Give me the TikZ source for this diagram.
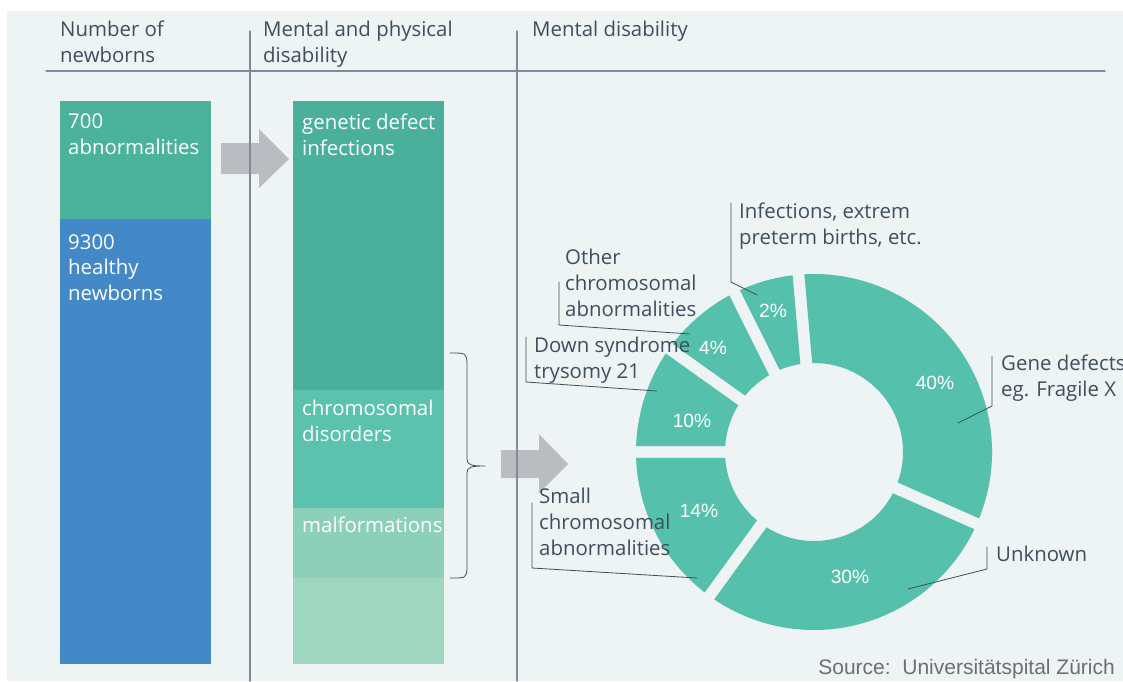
\documentclass[tikz,border=0pt]{standalone}
\usepackage{fontspec}
\setmainfont{Open Sans}
\newfontfamily\pctfont{Liberation Sans}
\definecolor{paper}{HTML}{EEF3F4}
\definecolor{ink}{HTML}{3E4F5E}
\definecolor{rulec}{HTML}{7E8B9B}
\definecolor{abnorm}{HTML}{4BB29C}
\definecolor{healthy}{HTML}{4389C8}
\definecolor{genetic}{HTML}{4AB09B}
\definecolor{chromo}{HTML}{5BC2AE}
\definecolor{malform}{HTML}{8CD0B9}
\definecolor{rest}{HTML}{9FD6BF}
\definecolor{ring}{HTML}{55C1AC}
\definecolor{arrowc}{HTML}{B9BCC0}
\definecolor{srcgray}{HTML}{6D6E71}
\begin{document}
\begin{tikzpicture}[
		x = 1pt,
		y = -1pt,
		line join = round,
		line cap = round,
		head/.style = {anchor=north west, inner sep=0pt, align=left, text=ink,
			font=\fontsize{20.4}{25.8}\selectfont},
		bartext/.style = {head, text=white},
		pct/.style = {inner sep=0pt, text=white, font=\pctfont\fontsize{19.2}{21}\selectfont},
		leader/.style = {draw=ink, line width=0.8pt},
		rule/.style = {draw=rulec, line width=1.3pt},
		]
\useasboundingbox (0,0) rectangle (1123,681);
\fill[white]	(0,0) rectangle (1123,681);
\fill[paper]	(7,11) rectangle (1123,681);

\node[head] (hnum)  at (60,21)  {Number of\\newborns};
\node[head] (hmix)  at (263,21) {Mental and physical\\disability};
\node[head] (hment) at (532,21) {Mental disability};

\fill[abnorm]	(60,101) rectangle (211,219);
\fill[healthy]	(60,219) rectangle (211,664);
\node[bartext] (nabn) at (68,114) {700\\abnormalities};
\node[bartext] (nhea) at (68,234) {9300\\healthy\\newborns};

\fill[genetic]	(293,101) rectangle (444,390);
\fill[chromo]	(293,390) rectangle (444,508);
\fill[malform]	(293,508) rectangle (444,578);
\fill[rest]	(293,578) rectangle (444,664);
\node[bartext] (ngen) at (302,114) {genetic defect\\infections};
\node[bartext] (nchr) at (302,400) {chromosomal\\disorders};
\node[bartext] (nmal) at (302,517) {malformations};

\fill[arrowc]	(221,143) -- (259,143) -- (259,129) -- (289,159) -- (259,188) -- (259,174) -- (221,174) -- cycle;
\fill[arrowc]	(501,450) -- (539,450) -- (539,434) -- (568,464) -- (539,493) -- (539,478) -- (501,478) -- cycle;

\draw[rule]	(46,71) -- (1105,71);
\draw[rule]	(250,31) -- (250,681);
\draw[rule]	(517,31) -- (517,681);

\draw[leader]	(450,353) .. controls (466,353) .. (467,362) -- (467,459)
		.. controls (467,465) and (471,466) .. (485,466)
		.. controls (471,466) and (467,467) .. (467,473) -- (467,569)
		.. controls (466,578) .. (450,578);

\begin{scope}[shift={(814,452)}, yscale=-1]
\foreach \s/\e in {234/336.2, -23.8/95, 95/116.5, 116.5/144.5, 144.5/180, 180/234}
	\fill[ring]	({\s+1.9}:178) arc[start angle=\s+1.9, end angle=\e-1.9, radius=178]
			-- ({\e-3.8}:89) arc[start angle=\e-3.8, end angle=\s+3.8, radius=89] -- cycle;
\end{scope}

\node[pct] (p40) at (935,383) {40\%};
\node[pct] (p30) at (850,577) {30\%};
\node[pct] (p14) at (699,511) {14\%};
\node[pct] (p10) at (692,421) {10\%};
\node[pct] (p4)  at (713,348) {4\%};
\node[pct] (p2)  at (773,311) {2\%};

\coordinate (aiminf)   at (757,295);
\coordinate (aimoth)   at (690,334);
\coordinate (aimdown)  at (657,391);
\coordinate (aimsmall) at (697,578);
\coordinate (aimgene)  at (958,423);
\coordinate (aimunk)   at (908,589);

\node[head] (linf)   at (739,203)  {Infections, extrem\\preterm births, etc.};
\node[head] (loth)   at (565,249)  {Other\\chromosomal\\abnormalities};
\node[head] (ldown)  at (534,337)  {Down syndrome\\trysomy 21};
\node[head] (lsmall) at (539,488)  {Small\\chromosomal\\abnormalities};
\node[head] (lgene)  at (1001,355) {Gene defects\\eg. Fragile X};
\node[head] (lunk)   at (996,546)  {Unknown};

\draw[leader]	([xshift=-8pt]linf.north west) -- ++(0,79) -- (aiminf);
\draw[leader]	([xshift=-6pt,yshift=-33pt]loth.north west) -- ++(0,43) -- (aimoth);
\draw[leader]	([xshift=-8pt]ldown.north west) -- ++(0,45) -- (aimdown);
\draw[leader]	([xshift=-7pt,yshift=-15pt]lsmall.north west) -- ++(0,65) -- (aimsmall);
\draw[leader]	([xshift=-9pt,yshift=-1pt]lgene.north west) -- ++(0,50) -- (aimgene);
\draw[leader]	([xshift=-9pt,yshift=-1pt]lunk.north west) -- ++(0,22) -- (aimunk);

\node[anchor=base east, inner sep=0pt, text=srcgray, font=\pctfont\fontsize{21}{23}\selectfont]
	(src) at (1115,674) {Source:\ \ Universitätspital Zürich};
\end{tikzpicture}
\end{document}
